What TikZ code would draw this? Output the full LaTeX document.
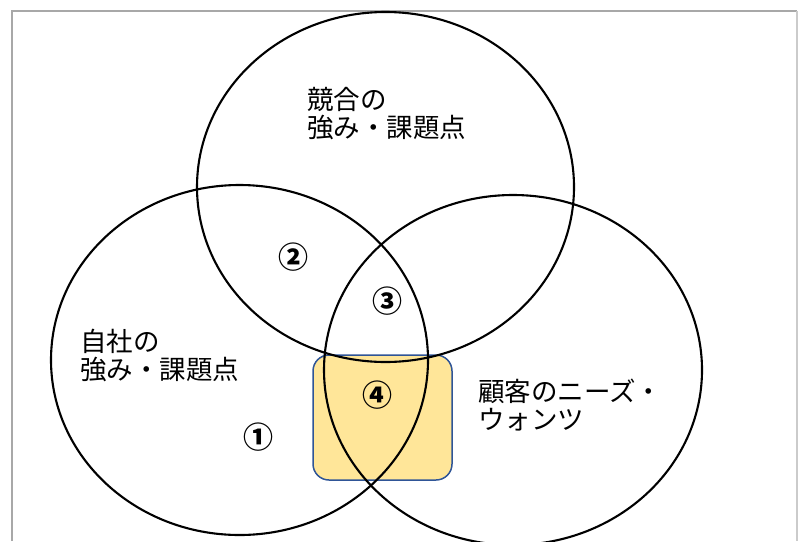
\documentclass[tikz,border=0pt]{standalone}
\usepackage{fontspec}
\usetikzlibrary{shapes.geometric}
\setmainfont{Noto Sans CJK JP}
\definecolor{boxfill}{HTML}{FFE699}
\definecolor{boxline}{HTML}{2F5597}
\definecolor{framegray}{HTML}{A8A8A8}
\tikzset{
  venn/.style={draw=black, line width=2.1pt, ellipse, inner sep=0pt},
  lbl/.style={align=left, anchor=north west, inner sep=0pt, font=\fontsize{26.5}{28}\selectfont},
  num/.style={inner sep=0pt, font=\fontsize{30}{32}\selectfont\bfseries}
}
\begin{document}
\begin{tikzpicture}[x=1pt,y=-1pt]
\useasboundingbox (0,0) rectangle (799,541);
\draw[framegray, line width=2pt] (12,541) -- (12,11) -- (797,11);
\draw[framegray!60, line width=1.5pt] (797,11) -- (797,541);
\node[draw=boxline, fill=boxfill, line width=1.5pt, rounded corners=16pt, minimum width=139pt, minimum height=125pt, inner sep=0pt] (box) at (382.5,417.5) {};
\node[venn, minimum width=377pt, minimum height=350pt] (top) at (385.5,187) {};
\node[venn, minimum width=377pt, minimum height=350pt] (left) at (239.5,360) {};
\node[venn, minimum width=378pt, minimum height=350pt] (right) at (513,370) {};
\node[lbl] (t1) at (307,87) {競合の\\強み・課題点};
\node[lbl] (t2) at (80,329) {自社の\\強み・課題点};
\node[lbl] (t3) at (478,379) {顧客のニーズ・\\ウォンツ};
\node[num] (n1) at (258,437) {①};
\node[num] (n2) at (293,257) {②};
\node[num] (n3) at (387,301) {③};
\node[num] (n4) at (377,395) {④};
\end{tikzpicture}
\end{document}
